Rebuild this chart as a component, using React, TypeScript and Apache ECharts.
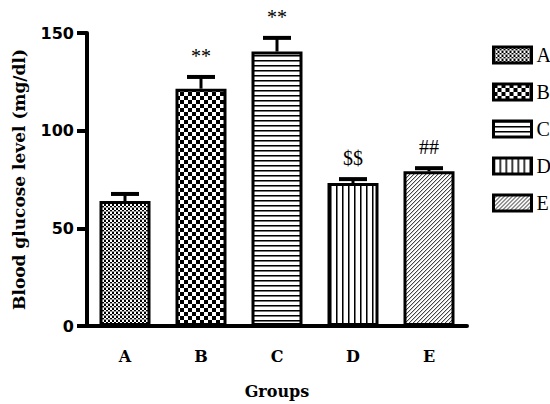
import React, { useEffect, useRef } from "react";
import * as echarts from "echarts";

const categories = ["A", "B", "C", "D", "E"];
const means = [64, 121.5, 140.5, 73.2, 79.2];
const errors = [3.6, 6, 7, 2, 1.6];
const sigLabels = ["", "**", "**", "$$", "##"];
const yTicks = [0, 50, 100, 150];

function makePattern(kind: string): HTMLCanvasElement {
  const c = document.createElement("canvas");
  let w = 4, h = 4;
  if (kind === "A") { w = 4; h = 4; }
  if (kind === "B") { w = 8; h = 8; }
  if (kind === "C") { w = 4; h = 5; }
  if (kind === "D") { w = 6; h = 4; }
  if (kind === "E") { w = 4; h = 4; }
  c.width = w; c.height = h;
  const g = c.getContext("2d")!;
  g.fillStyle = "#fff";
  g.fillRect(0, 0, w, h);
  g.fillStyle = "#000";
  if (kind === "A") {
    g.fillRect(0, 0, 2, 2);
    g.fillRect(2, 2, 2, 2);
    g.fillStyle = "#999";
    g.fillRect(0, 3, 4, 1);
  } else if (kind === "B") {
    g.fillRect(0, 0, 4, 4);
    g.fillRect(4, 4, 4, 4);
  } else if (kind === "C") {
    g.fillRect(0, 0, w, 1);
    g.fillStyle = "#777";
    g.fillRect(0, 1, w, 1);
  } else if (kind === "D") {
    g.fillRect(0, 0, 1, h);
    g.fillStyle = "#777";
    g.fillRect(1, 0, 1, h);
  } else if (kind === "E") {
    g.fillStyle = "#444";
    g.fillRect(3, 0, 1, 1);
    g.fillRect(2, 1, 1, 1);
    g.fillRect(1, 2, 1, 1);
    g.fillRect(0, 3, 1, 1);
    g.fillStyle = "#ccc";
    g.fillRect(0, 0, 1, 1);
    g.fillRect(3, 1, 1, 1);
    g.fillRect(2, 2, 1, 1);
    g.fillRect(1, 3, 1, 1);
  }
  return c;
}

export default function App() {
  const ref = useRef<HTMLDivElement>(null);
  useEffect(() => {
    if (!ref.current) return;
    const chart = echarts.init(ref.current, null, { renderer: "svg" });
    const barSeries = categories.map((cat, i) => ({
      name: cat,
      type: "bar",
      barWidth: 51,
      barGap: "-100%",
      data: means.map((v, j) => (j === i ? v : null)),
      itemStyle: {
        color: { image: makePattern(cat), repeat: "repeat" },
        borderColor: "#000",
        borderWidth: 3,
      },
      z: 2,
    }));
    const errData = categories.map((_, i) => [i, means[i], errors[i]]);
    const serif = "'DejaVu Serif'";
    chart.setOption({
      animation: false,
      backgroundColor: "#fff",
      grid: { left: 87, right: 83, top: 33, bottom: 76 },
      legend: {
        orient: "vertical",
        left: 492,
        top: 45,
        padding: 0,
        data: categories,
        icon: "rect",
        itemWidth: 38,
        itemHeight: 16,
        itemGap: 17,
        selectedMode: false,
        itemStyle: { borderColor: "#000", borderWidth: 3 },
        textStyle: {
          fontFamily: "Liberation Serif",
          fontSize: 20,
          color: "#000",
        },
      },
      xAxis: {
        type: "category",
        data: categories,
        axisLine: { lineStyle: { color: "#000", width: 4 } },
        axisTick: { alignWithLabel: true, length: 8, lineStyle: { color: "#000", width: 3 } },
        axisLabel: {
          margin: 22,
          color: "#000",
          fontFamily: serif,
          fontWeight: "bold",
          fontSize: 16,
        },
        name: "Groups",
        nameLocation: "middle",
        nameGap: 57,
        nameTextStyle: {
          color: "#000",
          fontFamily: serif,
          fontWeight: "bold",
          fontSize: 16,
        },
      },
      yAxis: {
        type: "value",
        min: yTicks[0],
        max: yTicks[yTicks.length - 1],
        interval: 50,
        splitLine: { show: false },
        axisLine: { show: true, lineStyle: { color: "#000", width: 4 } },
        axisTick: { show: true, length: 10, lineStyle: { color: "#000", width: 4 } },
        axisLabel: {
          margin: 13,
          color: "#000",
          fontFamily: "'DejaVu Sans'",
          fontWeight: "bold",
          fontSize: 16,
        },
        name: "Blood glucose level (mg/dl)",
        nameLocation: "middle",
        nameGap: 60,
        nameTextStyle: {
          color: "#000",
          fontFamily: serif,
          fontWeight: "bold",
          fontSize: 17,
        },
      },
      series: [
        ...barSeries,
        {
          type: "custom",
          data: errData,
          encode: { x: 0, y: 1 },
          z: 3,
          renderItem: (params: any, api: any) => {
            const idx = api.value(0);
            const m = api.value(1);
            const e = api.value(2);
            const p0 = api.coord([idx, m]);
            const p1 = api.coord([idx, m + e]);
            const half = 14;
            return {
              type: "group",
              children: [
                {
                  type: "line",
                  shape: { x1: p0[0], y1: p0[1], x2: p1[0], y2: p1[1] },
                  style: { stroke: "#000", lineWidth: 3 },
                },
                {
                  type: "line",
                  shape: { x1: p1[0] - half, y1: p1[1], x2: p1[0] + half, y2: p1[1] },
                  style: { stroke: "#000", lineWidth: 4 },
                },
                {
                  type: "text",
                  x: p1[0],
                  y: p1[1] - 21,
                  style: {
                    text: sigLabels[params.dataIndex],
                    fill: "#000",
                    font: "20px 'Liberation Serif'",
                    align: "center",
                    verticalAlign: "middle",
                  },
                },
              ],
            };
          },
        },
      ],
    });
    return () => chart.dispose();
  }, []);
  return (
    <div
      ref={ref}
      style={{ position: "absolute", left: 0, top: 0, width: 550, height: 404 }}
    />
  );
}
